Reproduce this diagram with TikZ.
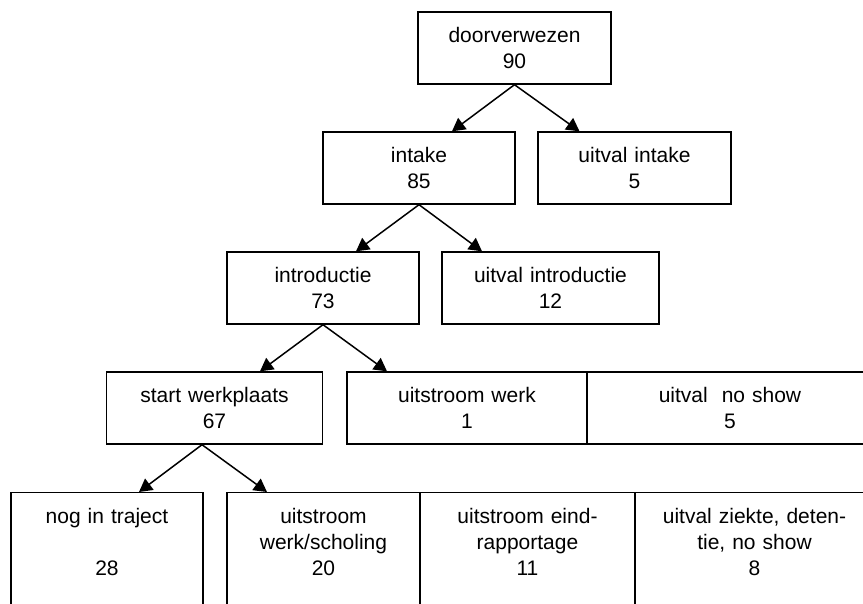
\documentclass[tikz,border=0pt]{standalone}
\usepackage{fontspec}
\setmainfont{Liberation Sans}
\usetikzlibrary{arrows.meta}

\tikzset{
  blok/.style={draw, rectangle, line width=1.4pt, align=center, inner xsep=0pt,
    minimum height=72pt, font=\fontsize{21}{25.5}\selectfont},
  blokLaag/.style={blok, anchor=north, inner ysep=15pt, text height=16pt,
    text depth=140pt, font=\fontsize{21}{26}\selectfont},
  pijl/.style={-{Triangle[length=13pt,width=14pt]}, line width=1.5pt}
}

\begin{document}
\begin{tikzpicture}[x=1pt,y=-1pt]

      \useasboundingbox (0,0) rectangle (863,604);
      \clip (0,0) rectangle (863,604);

      % the boxes, name/x/y/width/text
      \def\blokken{
        door/514.5/48/193/{doorverwezen\\90},
        intake/419/168/192/{intake\\85},
        uitIntake/634.5/168/193/{uitval intake\\5},
        intro/323/288/192/{introductie\\73},
        uitIntro/550.5/288/217/{uitval introductie\\12},
        startWp/214.5/408/216/{start werkplaats\\67},
        uitWerk/467/408/240/{uitstroom werk\\1},
        noShow/730/408/286/{uitval~~no show\\5}
      }
      \def\blokkenLaag{
        traject/107/{nog in traject\\\mbox{}\\28},
        scholing/323.5/{uitstroom\\werk/scholing\\20},
        eind/527.5/{uitstroom eind-\\rapportage\\11},
        ziekte/754.5/{uitval ziekte, deten-\\tie, no show\\8}
      }

      % draw the boxes
      \foreach \naam/\x/\y/\w/\tekst in \blokken
        \node[blok, minimum width=\w, text width=\w-20] (\naam) at (\x,\y) {\tekst};

      \foreach \naam/\x/\tekst [count=\ni] in \blokkenLaag
      {
        \pgfmathsetmacro\w{{192,193,215,239}[\ni-1]}
        \node[blokLaag, minimum width=\w, text width=\w-20] (\naam) at (\x,492) {\tekst};
      }

      % draw the arrows
      \draw[pijl] (door.south) -- ([xshift=33]intake.north);
      \draw[pijl] (door.south) -- ([xshift=-55]uitIntake.north);
      \draw[pijl] (intake.south) -- ([xshift=33]intro.north);
      \draw[pijl] (intake.south) -- ([xshift=-68.5]uitIntro.north);
      \draw[pijl] (intro.south) -- ([xshift=45.5]startWp.north);
      \draw[pijl] (intro.south) -- ([xshift=-80]uitWerk.north);
      \draw[pijl] ([xshift=-12.5]startWp.south) -- ([xshift=32]traject.north);
      \draw[pijl] ([xshift=-12.5]startWp.south) -- ([xshift=-56.5]scholing.north);

\end{tikzpicture}
\end{document}
